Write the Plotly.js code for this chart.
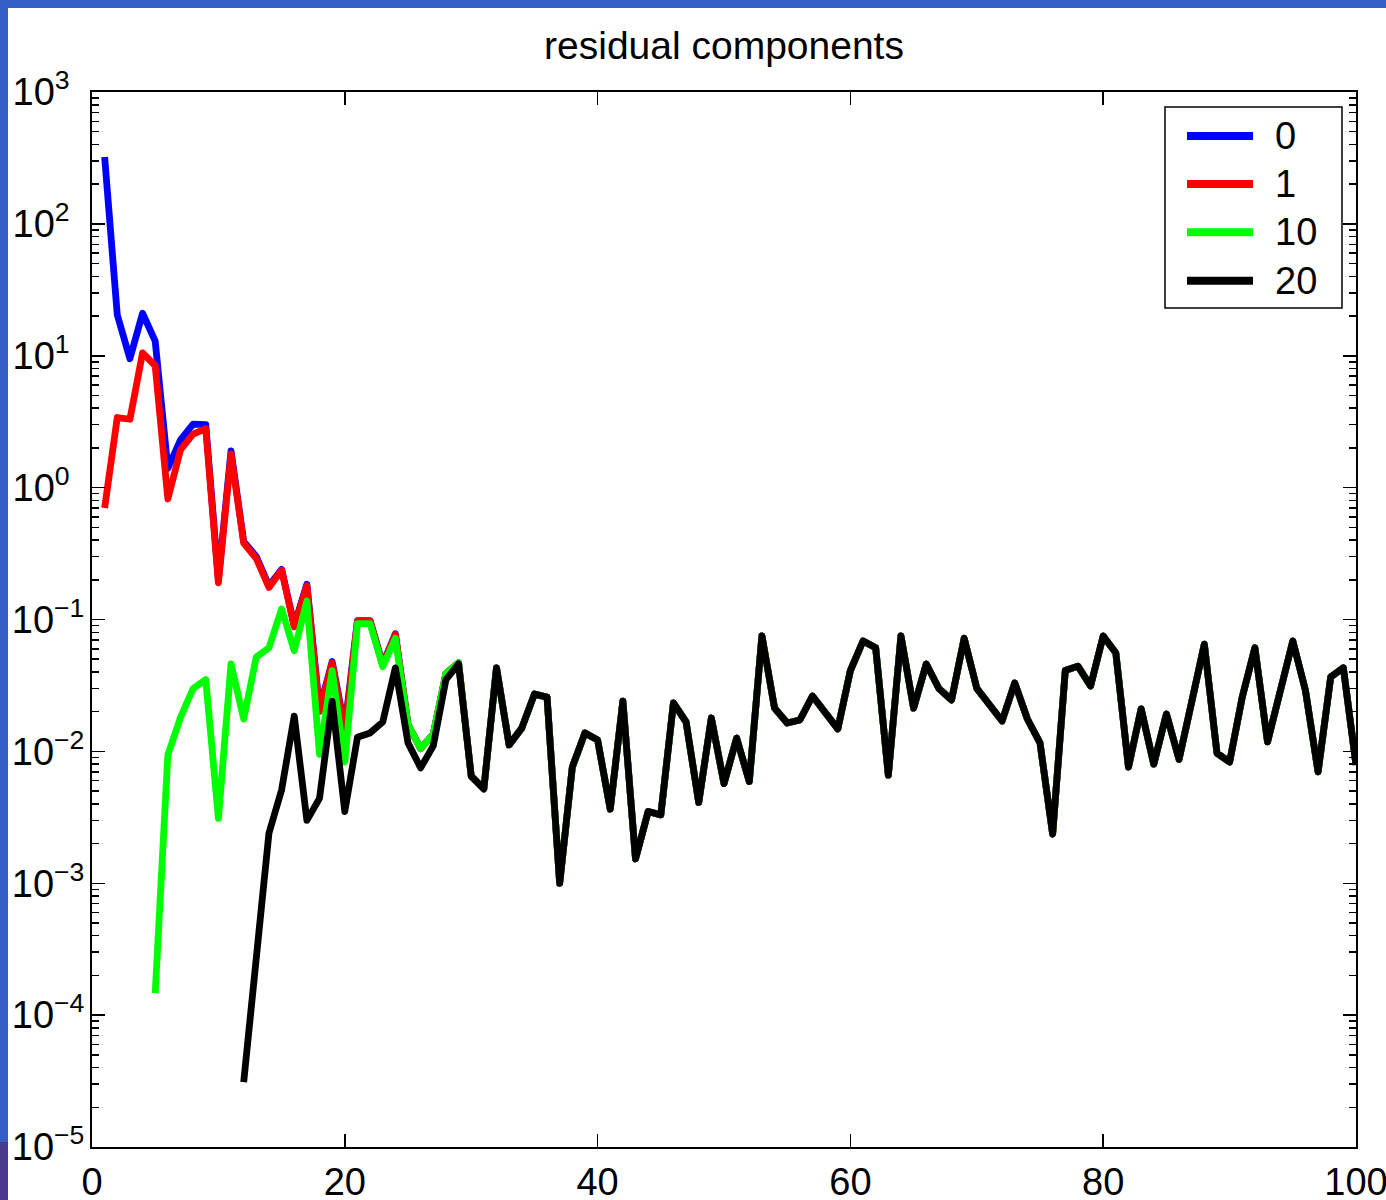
<!DOCTYPE html>
<html>
<head>
<meta charset="utf-8">
<script src="https://cdn.plot.ly/plotly-3.0.1.min.js"></script>
<style>
  html, body { margin: 0; padding: 0; background: #ffffff; }
  #wrap { position: relative; width: 1386px; height: 1200px; overflow: hidden; background: #ffffff; }
  #chart { position: absolute; left: 0; top: 0; width: 1386px; height: 1200px; }
  .bar-top { position: absolute; left: 0; top: 0; width: 1386px; height: 8px; background: #345ec6; }
  .bar-left { position: absolute; left: 0; top: 0; width: 8px; height: 1200px; background: #345ec6; }
  .bar-corner { position: absolute; left: 0; top: 1142px; width: 8px; height: 58px; background: #4a3a8e; }
  #chart .js-line { stroke-linejoin: round; }
</style>
</head>
<body>
<div id="wrap">
  <div id="chart"></div>
  <div class="bar-top"></div>
  <div class="bar-left"></div>
  <div class="bar-corner"></div>
</div>
<script>
// ---- data ----
const seriesNames = ["0", "1", "10", "20"];
const seriesColors = ["#0000ff", "#ff0000", "#00ff00", "#000000"];

// first iteration index of each series
const blueStart = 1;
const redStart = 1;
const greenStart = 5;
const blackStart = 12;

// individual (visible) parts, iterations start..29
const blueHead = [321, 20.4, 9.5, 21, 12.9, 1.4, 2.3, 3.03, 3.0, 0.2, 1.9, 0.39, 0.3, 0.18, 0.24,
                  0.09, 0.185, 0.021, 0.048, 0.015, 0.098, 0.098, 0.046, 0.078, 0.016, 0.0105, 0.0135, 0.039, 0.047];
const redHead = [0.7, 3.4, 3.3, 10.5, 8.4, 0.82, 1.93, 2.55, 2.8, 0.19, 1.8, 0.38, 0.29, 0.175, 0.237,
                 0.088, 0.18, 0.02, 0.047, 0.014, 0.097, 0.097, 0.045, 0.077, 0.016, 0.0105, 0.0135, 0.039, 0.047];
const greenHead = [1.47e-4, 0.0094, 0.018, 0.030, 0.035, 0.0031, 0.046, 0.0176, 0.052, 0.061, 0.12, 0.058,
                   0.138, 0.0095, 0.041, 0.0083, 0.093, 0.093, 0.044, 0.072, 0.016, 0.0105, 0.0135, 0.039, 0.047];
const blackHead = [3.1e-5, 2.7e-4, 0.0024, 0.0051, 0.0185, 0.003, 0.0044, 0.024, 0.0035, 0.0128, 0.0138,
                   0.0167, 0.043, 0.0116, 0.0075, 0.011, 0.035, 0.046];

// iterations 30..100, where all four series coincide
const sharedTail = [0.0065, 0.0052, 0.043, 0.0112, 0.015, 0.0272, 0.0258, 0.001, 0.0076, 0.0138,
  0.0122, 0.00365, 0.024, 0.00153, 0.0035, 0.0033, 0.0233, 0.0167, 0.0041, 0.0179,
  0.0057, 0.0126, 0.0059, 0.075, 0.0213, 0.0164, 0.0173, 0.0263, 0.0195, 0.0148,
  0.041, 0.0687, 0.061, 0.0066, 0.075, 0.0213, 0.046, 0.030, 0.0245, 0.072,
  0.030, 0.0225, 0.017, 0.033, 0.0176, 0.0116, 0.00236, 0.041, 0.0443, 0.0313,
  0.075, 0.0557, 0.0076, 0.021, 0.008, 0.0192, 0.0087, 0.0237, 0.065, 0.0097,
  0.0083, 0.0258, 0.061, 0.0118, 0.0277, 0.0687, 0.029, 0.007, 0.0366, 0.043, 0.0079];

const xTickVals = [0, 20, 40, 60, 80, 100];
const xTickText = ["0", "20", "40", "60", "80", "100"];
const yTickVals = [1e-5, 1e-4, 1e-3, 1e-2, 1e-1, 1, 10, 100, 1000];
// figure space pads positive exponents so the "10"s line up like the reference
const yTickText = ["10<sup>\u22125</sup>", "10<sup>\u22124</sup>", "10<sup>\u22123</sup>", "10<sup>\u22122</sup>",
                   "10<sup>\u22121</sup>", "10<sup>0\u2007</sup>", "10<sup>1\u2007</sup>", "10<sup>2\u2007</sup>", "10<sup>3\u2007</sup>"];

// ---- build traces ----
function iters(start, n) { const a = []; for (let i = 0; i < n; i++) a.push(start + i); return a; }
const heads = [blueHead, redHead, greenHead, blackHead];
const starts = [blueStart, redStart, greenStart, blackStart];
const traces = heads.map((h, k) => {
  const y = h.concat(sharedTail);
  return {
    type: "scatter", mode: "lines",
    name: seriesNames[k],
    x: iters(starts[k], y.length),
    y: y,
    line: { color: seriesColors[k], width: 6.8 },
    showlegend: false
  };
});

// ---- legend box (matplotlib style, longer line samples) ----
const PL = 92, PR = 1356, PT = 92, PB = 1147;
const px = p => (p - PL) / (PR - PL);
const py = p => (PB - p) / (PB - PT);
const FONT = "Liberation Sans, Arial, Helvetica, sans-serif";
const legendRows = [136, 184, 232.3, 280.7];
const shapes = [{
  type: "rect", xref: "paper", yref: "paper",
  x0: px(1165), x1: px(1342), y0: py(308), y1: py(107),
  fillcolor: "#ffffff", line: { color: "#000", width: 1.5 }, layer: "above"
}];
const annotations = [];
seriesNames.forEach((n, k) => {
  shapes.push({
    type: "line", xref: "paper", yref: "paper",
    x0: px(1187), x1: px(1253), y0: py(legendRows[k]), y1: py(legendRows[k]),
    line: { color: seriesColors[k], width: 8 }, layer: "above"
  });
  annotations.push({
    xref: "paper", yref: "paper", x: px(1274), y: py(legendRows[k]),
    xanchor: "left", yanchor: "middle", showarrow: false, borderpad: 0,
    text: n, font: { family: FONT, size: 38, color: "#000" }
  });
});

const layout = {
  width: 1386, height: 1200,
  paper_bgcolor: "rgba(0,0,0,0)",
  plot_bgcolor: "#ffffff",
  margin: { l: PL, r: 1386 - PR, t: PT, b: 1200 - PB, pad: 0 },
  font: { family: FONT, size: 38, color: "#000000" },
  title: { text: "residual components", font: { family: FONT, size: 39, color: "#000" },
           x: 0.5, xref: "paper", xanchor: "center", y: 0.962, yref: "container", yanchor: "middle" },
  xaxis: {
    range: [0, 100], tickvals: xTickVals, ticktext: xTickText,
    showgrid: false, zeroline: false,
    showline: true, linecolor: "#000", linewidth: 2, mirror: "ticks",
    ticks: "inside", ticklen: 13, tickwidth: 1.5, tickcolor: "#000",
    ticklabeloverflow: "allow",
    tickfont: { family: FONT, size: 38, color: "#000" }
  },
  yaxis: {
    type: "log", range: [-5, 3], tickvals: yTickVals, ticktext: yTickText,
    showgrid: false, zeroline: false,
    showline: true, linecolor: "#000", linewidth: 2, mirror: "ticks",
    ticks: "inside", ticklen: 13, tickwidth: 1.5, tickcolor: "#000",
    ticklabelstandoff: -2, ticklabeloverflow: "allow",
    tickfont: { family: FONT, size: 38, color: "#000" },
    minor: { ticks: "inside", ticklen: 7, tickwidth: 1.5, tickcolor: "#000", dtick: "D1", showgrid: false }
  },
  shapes: shapes,
  annotations: annotations,
  showlegend: false
};

Plotly.newPlot("chart", traces, layout, { displayModeBar: false, staticPlot: true });
</script>
</body>
</html>
